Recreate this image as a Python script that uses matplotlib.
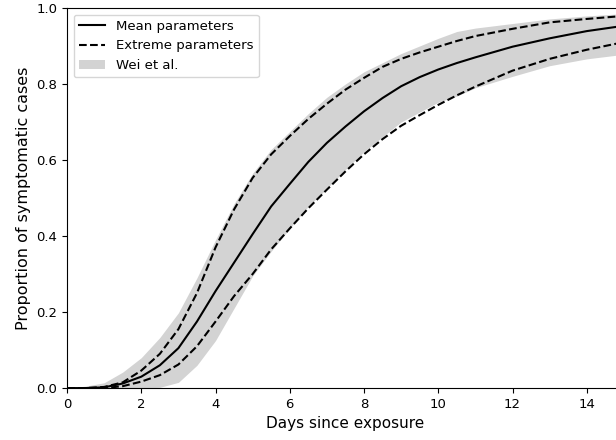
import numpy as np
import matplotlib
matplotlib.use("Agg")
import matplotlib.pyplot as plt

# days since exposure
mean_days = [0, 0.5, 1, 1.5, 2, 2.5, 3, 3.5, 4, 4.5, 5, 5.5, 6, 6.5, 7, 7.5,
             8, 8.5, 9, 9.5, 10, 10.5, 11, 12, 13, 14, 15]
mean_prop = [0, 0.0, 0.002, 0.012, 0.03, 0.06, 0.105, 0.175, 0.255, 0.33,
             0.405, 0.478, 0.537, 0.595, 0.645, 0.688, 0.728, 0.763, 0.794,
             0.818, 0.838, 0.855, 0.87, 0.898, 0.92, 0.939, 0.953]

upper_days = [0, 0.5, 1, 1.5, 2, 2.5, 3, 3.5, 4, 4.5, 5, 5.5, 6, 6.5, 7, 7.5,
              8, 8.5, 9, 9.5, 10, 10.5, 11, 12, 13, 14, 15]
upper_prop = [0, 0.0, 0.003, 0.015, 0.046, 0.09, 0.155, 0.25, 0.37, 0.47,
              0.553, 0.615, 0.663, 0.708, 0.748, 0.785, 0.816, 0.845, 0.866,
              0.883, 0.898, 0.913, 0.926, 0.945, 0.962, 0.971, 0.979]

lower_days = [0, 1, 1.5, 2, 2.5, 3, 3.5, 4, 4.5, 5, 5.5, 6, 6.5, 7, 7.5,
              8, 8.5, 9, 9.5, 10, 10.5, 11, 12, 13, 14, 15]
lower_prop = [0, 0.0, 0.005, 0.017, 0.034, 0.062, 0.11, 0.175, 0.242, 0.30,
              0.365, 0.42, 0.473, 0.522, 0.57, 0.615, 0.655, 0.69, 0.718,
              0.745, 0.77, 0.793, 0.835, 0.866, 0.89, 0.91]

# Wei et al. band
band_days = [0, 0.5, 1, 1.5, 2, 2.5, 3, 3.5, 4, 4.5, 5, 5.5, 6, 6.5, 7,
             7.5, 8, 9, 10, 10.5, 11, 12, 13, 14, 15]
band_hi = [0, 0.005, 0.014, 0.042, 0.08, 0.133, 0.198, 0.29, 0.39, 0.485,
           0.565, 0.628, 0.675, 0.722, 0.765, 0.8, 0.832, 0.88, 0.92,
           0.938, 0.947, 0.959, 0.971, 0.979, 0.985]
band_lo = [0, 0, 0, 0, 0, 0.002, 0.015, 0.06, 0.125, 0.21, 0.295, 0.36,
           0.42, 0.478, 0.525, 0.575, 0.622, 0.70, 0.752, 0.768, 0.79,
           0.82, 0.848, 0.866, 0.878]

fig = plt.figure(figsize=(6.16, 4.4), dpi=100)
ax = fig.add_axes([0.1088, 0.118, 0.904, 0.864])

ax.fill_between(band_days, band_lo, band_hi, color="lightgray", lw=0,
                label="Wei et al.")
ax.plot(mean_days, mean_prop, "k-", lw=1.5, label="Mean parameters")
ax.plot(upper_days, upper_prop, "k--", lw=1.5, label="Extreme parameters")
ax.plot(lower_days, lower_prop, "k--", lw=1.5)

ax.set_xlim(0, 15)
ax.set_ylim(0, 1)
ax.set_xticks([0, 2, 4, 6, 8, 10, 12, 14])
ax.set_xlabel("Days since exposure", fontsize=11)
ax.set_ylabel("Proportion of symptomatic cases", fontsize=11.5)
ax.tick_params(labelsize=9.5)

h, l = ax.get_legend_handles_labels()
ax.legend([h[1], h[2], h[0]], [l[1], l[2], l[0]], loc="upper left",
          fontsize=9.5)

fig.savefig("out.png", dpi=100)
